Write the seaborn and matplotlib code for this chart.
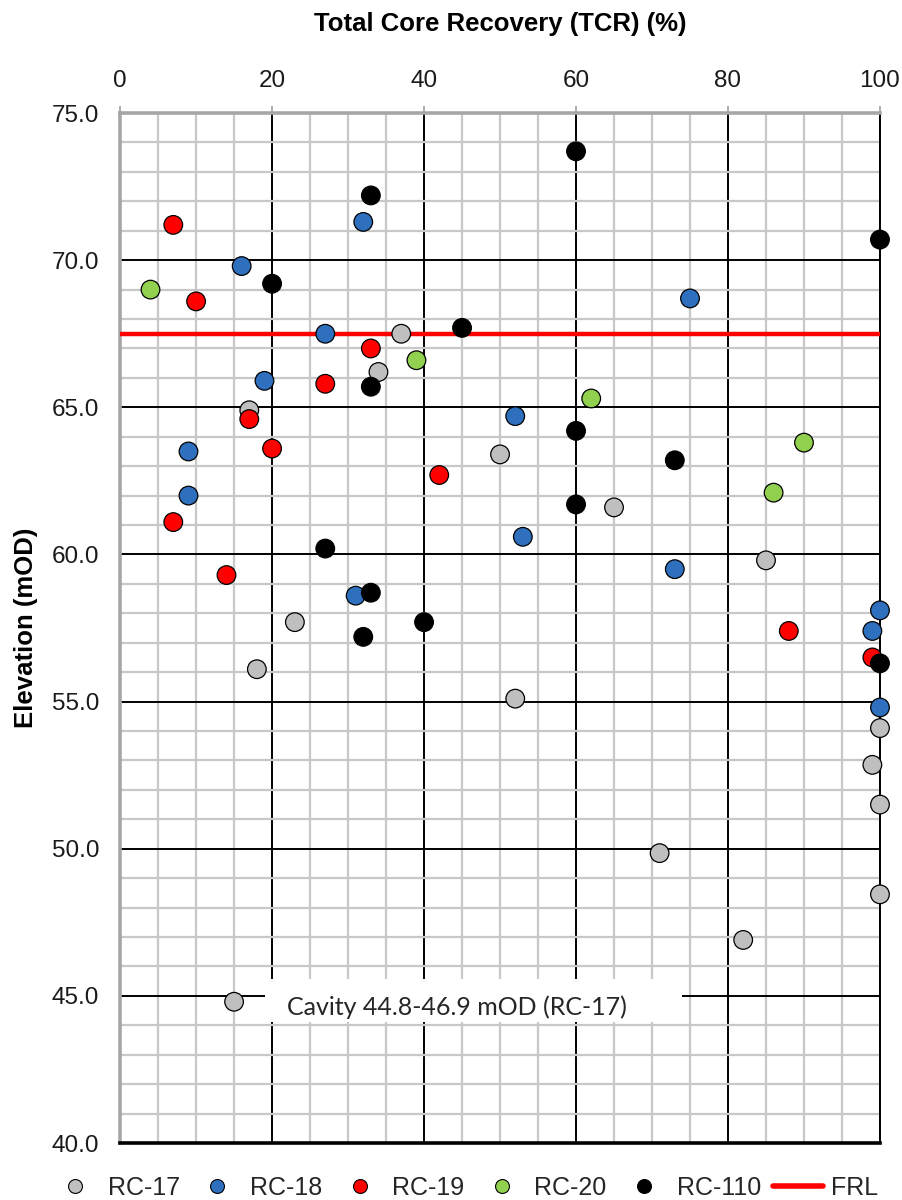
import pandas as pd
import matplotlib
matplotlib.use("Agg")
import matplotlib.pyplot as plt
from matplotlib.ticker import MultipleLocator, FormatStrFormatter
from matplotlib.lines import Line2D
from matplotlib.patches import Rectangle
import seaborn as sns

# boreholes, drawn in this order
holes = ["RC-17", "RC-18", "RC-19", "RC-20", "RC-110"]
colors = ["#BFBFBF", "#2E70BE", "#FF0000", "#92D050", "#000000"]

rc17_tcr = [37, 34, 17, 50, 65, 85, 23, 18, 52, 100, 99, 100, 71, 100, 82, 15]
rc17_elev = [67.5, 66.2, 64.9, 63.4, 61.6, 59.8, 57.7, 56.1, 55.1, 54.1, 52.85, 51.5, 49.85, 48.45, 46.9, 44.8]

rc18_tcr = [32, 16, 75, 27, 19, 52, 9, 9, 53, 73, 31, 100, 99, 100]
rc18_elev = [71.3, 69.8, 68.7, 67.5, 65.9, 64.7, 63.5, 62.0, 60.6, 59.5, 58.6, 58.1, 57.4, 54.8]

rc19_tcr = [7, 10, 33, 27, 17, 20, 42, 7, 14, 88, 99]
rc19_elev = [71.2, 68.6, 67.0, 65.8, 64.6, 63.6, 62.7, 61.1, 59.3, 57.4, 56.5]

rc20_tcr = [4, 39, 62, 90, 86]
rc20_elev = [69.0, 66.6, 65.3, 63.8, 62.1]

rc110_tcr = [60, 33, 100, 20, 45, 33, 60, 73, 60, 27, 33, 40, 32, 100]
rc110_elev = [73.7, 72.2, 70.7, 69.2, 67.7, 65.7, 64.2, 63.2, 61.7, 60.2, 58.7, 57.7, 57.2, 56.3]

frl = 67.5
note = "Cavity 44.8-46.9 mOD (RC-17)"

tcr_all = [rc17_tcr, rc18_tcr, rc19_tcr, rc20_tcr, rc110_tcr]
elev_all = [rc17_elev, rc18_elev, rc19_elev, rc20_elev, rc110_elev]
df = pd.concat([pd.DataFrame({"TCR": t, "Elevation": e, "Hole": h})
                for h, t, e in zip(holes, tcr_all, elev_all)], ignore_index=True)
palette = dict(zip(holes, colors))

sns.set_theme(style="white")
plt.rcParams["font.family"] = ["Liberation Sans", "DejaVu Sans"]

fig = plt.figure(figsize=(9.03, 12), dpi=100)
ax = fig.add_axes([0.133, 0.0475, 0.8415, 0.8583])

ax.set_xlim(0, 100)
ax.set_ylim(40, 75)
ax.xaxis.set_major_locator(MultipleLocator(20))
ax.xaxis.set_minor_locator(MultipleLocator(5))
ax.yaxis.set_major_locator(MultipleLocator(5))
ax.yaxis.set_minor_locator(MultipleLocator(1))
ax.yaxis.set_major_formatter(FormatStrFormatter("%.1f"))

ax.set_axisbelow(True)
ax.grid(which="minor", color="#C8C8C8", lw=1.6)
ax.grid(which="major", color="black", lw=1.4)

# note box sits over the grid
ax.add_patch(Rectangle((19.1, 44.1), 54.8, 1.47, facecolor="white",
                       edgecolor="none", zorder=1.5))
ax.text(22.0, 44.62, note, ha="left", va="center", fontsize=18,
        family=["Lato", "DejaVu Sans"], color="#262626", zorder=2)

ax.axhline(frl, color="#FF0000", lw=3.2, zorder=3)

sns.scatterplot(data=df, x="TCR", y="Elevation", hue="Hole", palette=palette,
                s=180, edgecolor="black", linewidth=0.9, legend=False,
                ax=ax, zorder=5, clip_on=False)

for side in ["left", "top"]:
    ax.spines[side].set_color("#A6A6A6")
    ax.spines[side].set_linewidth(2.6)
ax.spines["bottom"].set_color("black")
ax.spines["bottom"].set_linewidth(2.6)
ax.spines["right"].set_color("black")
ax.spines["right"].set_linewidth(1.4)

ax.xaxis.tick_top()
ax.xaxis.set_label_position("top")
ax.tick_params(which="major", direction="out", length=5, width=1.3,
               color="#A6A6A6", labelsize=17.5, pad=10, labelcolor="#1a1a1a")
ax.tick_params(which="minor", length=0)

ax.set_xlabel("Total Core Recovery (TCR) (%)", fontsize=18.5, fontweight="bold",
              labelpad=28, color="black")
ax.set_ylabel("Elevation (mOD)", fontsize=18.5, fontweight="bold",
              labelpad=10, color="black")

handles = [Line2D([], [], marker="o", ls="", markersize=10, markerfacecolor=c,
                  markeredgecolor="black", markeredgewidth=0.8) for c in colors]
handles.append(Line2D([], [], color="#FF0000", lw=4))
fig.legend(handles, holes + ["FRL"], loc="center", ncol=6,
           bbox_to_anchor=(0.514, 1 - 1188 / 1200), frameon=False,
           fontsize=18, handlelength=2.0, handletextpad=0.3,
           columnspacing=0.5, borderaxespad=0)

fig.savefig("out.png", dpi=100)
